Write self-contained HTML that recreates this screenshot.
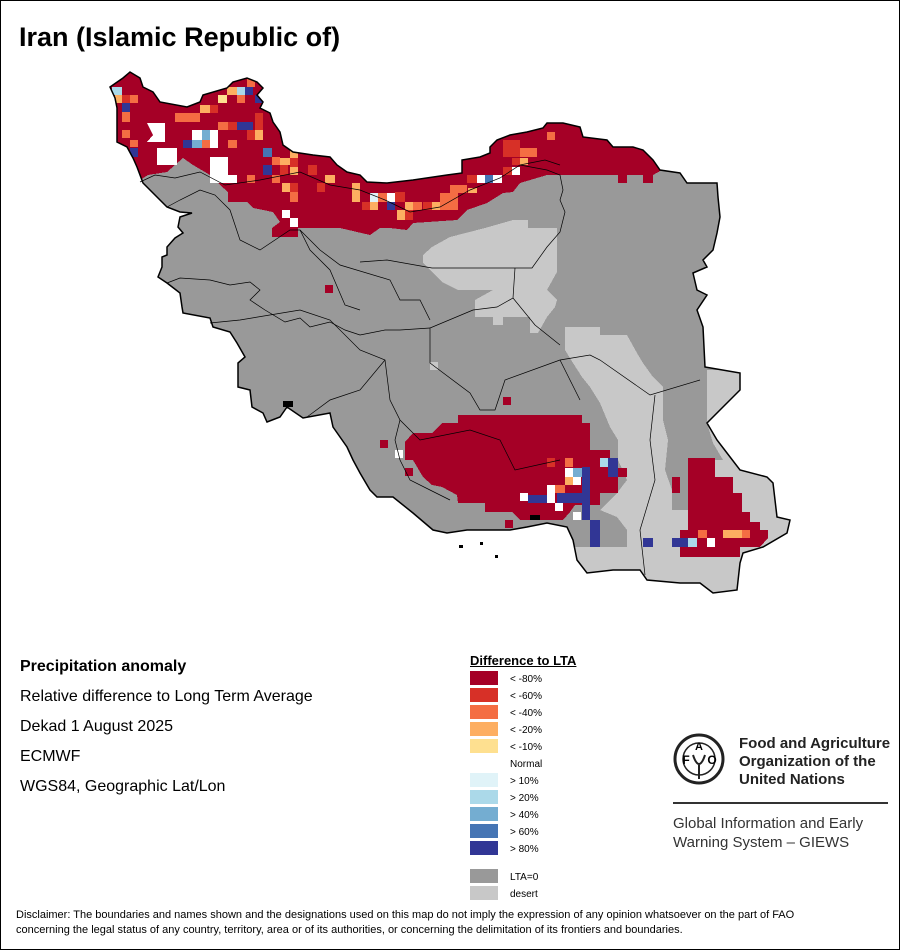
<!DOCTYPE html>
<html><head><meta charset="utf-8"><style>
body{margin:0;background:#fff;}
#c{position:relative;width:898px;height:948px;border:1px solid #000;overflow:hidden;font-family:"Liberation Sans",sans-serif;}
.t{position:absolute;white-space:nowrap;color:#000;}
</style></head><body><div id="c">
<div class="t" style="left:18px;top:21px;font-size:27px;font-weight:bold;">Iran (Islamic Republic of)</div>
<svg width="900" height="950" style="position:absolute;left:-1px;top:-1px">
<defs><clipPath id="ir"><polygon id="outl" points="110,87 123,78 130,72 140,78 143,87 153,92 160,102 187,107 200,102 203,95 227,88 233,82 247,78 257,82 263,88 257,95 263,102 260,108 270,113 273,122 280,132 283,145 293,152 313,155 330,157 337,165 347,172 360,175 367,182 387,183 413,180 447,175 462,173 462,160 480,157 490,153 490,147 497,140 510,135 527,132 543,128 547,123 563,123 580,127 583,137 607,140 613,147 633,147 643,150 653,160 660,170 680,173 687,183 717,183 718,197 720,217 717,233 713,250 703,260 707,267 693,273 697,290 707,295 697,310 703,327 705,367 740,373 740,390 707,423 717,440 727,453 740,470 767,477 773,483 777,517 790,520 787,533 763,547 743,553 740,563 737,590 713,593 700,583 680,583 647,580 640,570 613,570 587,573 577,560 573,540 567,527 547,523 527,527 510,530 493,530 467,530 447,533 433,530 413,513 393,497 377,497 370,490 360,473 353,460 347,447 333,427 330,413 303,418 287,407 280,417 267,422 263,413 252,407 250,390 238,387 238,363 245,357 237,343 230,332 213,327 210,318 183,313 182,307 180,293 167,283 158,277 162,267 162,257 167,255 167,247 175,238 183,233 178,227 180,217 192,213 180,212 167,207 153,193 143,183 137,167 133,158 127,147 117,142 117,125 117,108 115,98"/></clipPath></defs>
<g clip-path="url(#ir)" shape-rendering="crispEdges">
<rect x="100" y="60" width="700" height="550" fill="#999999"/>
<polygon fill="#c8c8c8" points="423,255 432,247 450,237 485,228 513,220 528,220 528,228 557,228 557,272 547,290 557,300 555,307 547,317 538,333 530,333 530,317 503,317 503,325 493,325 493,317 475,317 475,300 493,290 458,290 442,282 432,272 423,263"/>
<polygon fill="#c8c8c8" points="565,327 600,327 600,335 627,335 637,353 643,363 653,377 663,387 707,370 760,370 800,480 800,610 560,610 573,557 573,547 627,547 627,530 617,517 600,510 617,493 627,480 618,460 618,440 610,427 600,403 590,387 582,377 573,363 565,350"/>
<polygon fill="#999999" points="663,387 707,370 707,423 713,443 723,460 700,460 690,470 688,510 672,510 672,490 665,470 668,440 663,420"/>
<rect x="430" y="362" width="8" height="8" fill="#c8c8c8"/>
<polygon fill="#a50026" points="100,60 800,60 800,165 662,170 653,175 653,183 643,183 643,175 627,175 627,183 618,183 618,175 547,175 520,183 513,192 503,193 487,203 467,210 457,220 413,223 407,230 390,228 380,228 370,235 340,228 298,228 298,237 272,237 272,228 280,222 273,212 253,208 247,202 228,202 228,192 220,185 210,175 193,165 183,158 167,172 148,175 140,180 100,180"/>
<polygon fill="#a50026" points="458,415 582,415 582,423 590,423 590,450 610,450 610,468 627,468 627,477 618,477 618,493 600,493 600,505 575,505 570,512 563,520 520,520 512,512 485,512 485,503 458,503 457,495 442,487 432,485 423,477 413,460 405,460 405,442 413,433 432,433 442,423 458,423"/>
<polygon fill="#a50026" points="688,458 715,458 715,477 733,477 733,493 742,493 742,512 750,512 750,522 760,522 760,530 768,530 768,538 760,547 740,547 740,557 680,557 680,530 688,530"/>
<g fill="#a50026"><rect x="672" y="477" width="8" height="16"/><rect x="503" y="397" width="8" height="8"/><rect x="380" y="440" width="8" height="8"/><rect x="405" y="468" width="8" height="8"/><rect x="505" y="520" width="8" height="8"/><rect x="325" y="285" width="8" height="8"/></g>
<g fill="#fff"><polygon points="147,123 165,123 165,142 147,142 153,135"/><rect x="157" y="148" width="20" height="17"/><rect x="192" y="130" width="10" height="10"/><rect x="210" y="130" width="8" height="18"/><rect x="210" y="157" width="18" height="18"/><rect x="210" y="175" width="27" height="8"/><rect x="387" y="193" width="8" height="9"/><rect x="282" y="210" width="8" height="8"/><rect x="290" y="218" width="8" height="9"/><rect x="477" y="175" width="8" height="8"/><rect x="493" y="175" width="9" height="8"/><rect x="512" y="167" width="8" height="8"/><rect x="395" y="450" width="8" height="8"/><rect x="565" y="468" width="8" height="9"/><rect x="573" y="477" width="8" height="8"/><rect x="547" y="485" width="8" height="18"/><rect x="555" y="503" width="8" height="8"/><rect x="573" y="512" width="8" height="8"/><rect x="707" y="538" width="8" height="9"/><rect x="520" y="493" width="8" height="8"/></g>
<g fill="#d73027"><rect x="122" y="95" width="8" height="8"/><rect x="210" y="105" width="8" height="8"/><rect x="228" y="122" width="9" height="8"/><rect x="255" y="113" width="8" height="17"/><rect x="247" y="130" width="8" height="10"/><rect x="280" y="165" width="8" height="10"/><rect x="290" y="158" width="8" height="9"/><rect x="308" y="165" width="9" height="10"/><rect x="317" y="183" width="8" height="9"/><rect x="290" y="183" width="8" height="9"/><rect x="362" y="202" width="8" height="8"/><rect x="395" y="192" width="10" height="10"/><rect x="423" y="202" width="9" height="8"/><rect x="405" y="210" width="8" height="10"/><rect x="467" y="175" width="10" height="8"/><rect x="503" y="167" width="9" height="8"/><rect x="503" y="140" width="17" height="17"/><rect x="512" y="158" width="8" height="7"/><rect x="547" y="458" width="8" height="9"/></g>
<g fill="#f46d43"><rect x="130" y="95" width="8" height="8"/><rect x="122" y="112" width="8" height="10"/><rect x="122" y="130" width="8" height="8"/><rect x="130" y="140" width="8" height="7"/><rect x="175" y="113" width="25" height="9"/><rect x="237" y="95" width="8" height="8"/><rect x="247" y="78" width="8" height="9"/><rect x="202" y="140" width="8" height="8"/><rect x="228" y="140" width="9" height="8"/><rect x="218" y="122" width="10" height="8"/><rect x="272" y="157" width="8" height="8"/><rect x="272" y="175" width="8" height="8"/><rect x="247" y="175" width="8" height="8"/><rect x="290" y="192" width="8" height="10"/><rect x="378" y="193" width="9" height="9"/><rect x="413" y="202" width="9" height="8"/><rect x="440" y="193" width="18" height="17"/><rect x="450" y="185" width="17" height="8"/><rect x="520" y="148" width="17" height="9"/><rect x="547" y="132" width="8" height="8"/><rect x="565" y="458" width="8" height="9"/><rect x="555" y="485" width="10" height="8"/><rect x="698" y="530" width="9" height="8"/><rect x="742" y="530" width="8" height="8"/></g>
<g fill="#fdae61"><rect x="115" y="95" width="7" height="8"/><rect x="200" y="105" width="10" height="8"/><rect x="227" y="87" width="10" height="8"/><rect x="255" y="130" width="8" height="10"/><rect x="280" y="158" width="10" height="7"/><rect x="290" y="150" width="8" height="8"/><rect x="290" y="167" width="8" height="8"/><rect x="325" y="175" width="10" height="8"/><rect x="282" y="183" width="8" height="9"/><rect x="352" y="183" width="8" height="19"/><rect x="370" y="202" width="8" height="8"/><rect x="405" y="202" width="8" height="8"/><rect x="432" y="202" width="8" height="8"/><rect x="397" y="210" width="8" height="10"/><rect x="468" y="188" width="9" height="5"/><rect x="520" y="158" width="8" height="7"/><rect x="565" y="477" width="8" height="8"/><rect x="723" y="530" width="19" height="8"/></g>
<g fill="#fee090"><rect x="218" y="95" width="9" height="8"/></g>
<g fill="#e0f3f8"><rect x="370" y="193" width="8" height="9"/></g>
<g fill="#abd9e9"><rect x="112" y="87" width="10" height="8"/><rect x="237" y="87" width="8" height="8"/><rect x="600" y="458" width="8" height="9"/><rect x="688" y="538" width="9" height="9"/></g>
<g fill="#74add1"><rect x="202" y="130" width="8" height="10"/><rect x="192" y="140" width="10" height="8"/><rect x="573" y="468" width="9" height="9"/></g>
<g fill="#4575b4"><rect x="263" y="148" width="9" height="9"/><rect x="485" y="175" width="8" height="8"/></g>
<g fill="#313695"><rect x="245" y="87" width="8" height="8"/><rect x="255" y="95" width="8" height="8"/><rect x="122" y="103" width="8" height="9"/><rect x="130" y="148" width="8" height="9"/><rect x="183" y="140" width="9" height="8"/><rect x="237" y="122" width="16" height="8"/><rect x="263" y="165" width="9" height="10"/><rect x="387" y="202" width="8" height="8"/><rect x="582" y="467" width="8" height="53"/><rect x="557" y="493" width="25" height="10"/><rect x="528" y="495" width="19" height="8"/><rect x="590" y="520" width="10" height="27"/><rect x="608" y="458" width="10" height="19"/><rect x="643" y="538" width="10" height="9"/><rect x="672" y="538" width="16" height="9"/></g>
</g>
<use href="#outl" fill="none" stroke="#000" stroke-width="1.5"/>
<g fill="#000"><rect x="283" y="401" width="10" height="6"/><rect x="459" y="545" width="4" height="3"/><rect x="495" y="555" width="3" height="3"/><rect x="480" y="542" width="3" height="3"/><rect x="530" y="515" width="10" height="5"/></g>
<g fill="none" stroke="#000" stroke-width="0.7">
<polyline points="140,182 155,175 175,178 200,172 225,185 260,180 300,172 330,185 360,190 385,200 410,212 440,207 470,190 500,178 520,165 545,160 560,165"/>
<polyline points="520,165 547,170 560,175 563,190 560,200 565,212 560,232 547,247 532,268 515,268 432,268 387,260 360,262"/>
<polyline points="515,268 513,298 497,307 473,310 430,328 430,363 470,393 480,410 495,410 505,380 560,360 590,355 600,360 650,395 700,380"/>
<polyline points="513,298 535,325 560,345"/>
<polyline points="560,360 580,400"/>
<polyline points="655,395 650,440 655,480 640,530 645,575"/>
<polyline points="167,207 180,200 200,190 215,195 230,210 240,240 260,250 290,230 300,230 320,250 340,265 390,280 400,300 420,300 430,320"/>
<polyline points="167,283 180,278 210,280 230,285 250,282 260,290 250,300 265,310 285,322 300,318 310,327 330,322 345,330 360,335 385,330 400,330 430,328"/>
<polyline points="210,323 240,320 300,310 330,320 360,350 385,360 390,400 400,420 420,440 470,430 500,440 515,470 560,460"/>
<polyline points="307,417 330,400 360,390 385,360"/>
<polyline points="300,230 310,250 330,270 345,305 360,310"/>
<polyline points="400,420 395,440 400,460 410,480 430,490 450,500"/>
</g>
</svg>
<div class="t" style="left:19px;top:657px;font-size:16px;font-weight:bold;">Precipitation anomaly</div>
<div class="t" style="left:19px;top:687px;font-size:16px;">Relative difference to Long Term Average</div>
<div class="t" style="left:19px;top:717px;font-size:16px;">Dekad 1 August 2025</div>
<div class="t" style="left:19px;top:747px;font-size:16px;">ECMWF</div>
<div class="t" style="left:19px;top:777px;font-size:16px;">WGS84, Geographic Lat/Lon</div>
<div class="t" style="left:469px;top:652px;font-size:13px;font-weight:bold;text-decoration:underline;">Difference to LTA</div>
<svg width="140" height="240" style="position:absolute;left:469px;top:670px">
<g>
<rect x="0" y="0" width="28" height="14" fill="#a50026"/>
<rect x="0" y="17" width="28" height="14" fill="#d73027"/>
<rect x="0" y="34" width="28" height="14" fill="#f46d43"/>
<rect x="0" y="51" width="28" height="14" fill="#fdae61"/>
<rect x="0" y="68" width="28" height="14" fill="#fee090"/>
<rect x="0" y="102" width="28" height="14" fill="#e0f3f8"/>
<rect x="0" y="119" width="28" height="14" fill="#abd9e9"/>
<rect x="0" y="136" width="28" height="14" fill="#74add1"/>
<rect x="0" y="153" width="28" height="14" fill="#4575b4"/>
<rect x="0" y="170" width="28" height="14" fill="#313695"/>
<rect x="0" y="198" width="28" height="14" fill="#999999"/>
<rect x="0" y="215" width="28" height="14" fill="#c8c8c8"/>
</g>
<g font-family="Liberation Sans, sans-serif" font-size="10" fill="#000">
<text x="40" y="11">&lt; -80%</text><text x="40" y="28">&lt; -60%</text><text x="40" y="45">&lt; -40%</text><text x="40" y="62">&lt; -20%</text><text x="40" y="79">&lt; -10%</text><text x="40" y="96">Normal</text><text x="40" y="113">&gt; 10%</text><text x="40" y="130">&gt; 20%</text><text x="40" y="147">&gt; 40%</text><text x="40" y="164">&gt; 60%</text><text x="40" y="181">&gt; 80%</text><text x="40" y="209">LTA=0</text><text x="40" y="226">desert</text>
</g></svg>
<svg width="60" height="60" style="position:absolute;left:672px;top:732px">
<circle cx="26" cy="26" r="24" fill="none" stroke="#222" stroke-width="3"/>
<circle cx="26" cy="26" r="16" fill="none" stroke="#222" stroke-width="1.5"/>
<text x="13" y="31" font-size="12" font-weight="bold" font-family="Liberation Sans" text-anchor="middle">F</text>
<text x="26" y="17" font-size="11" font-weight="bold" font-family="Liberation Sans" text-anchor="middle">A</text>
<text x="39" y="31" font-size="12" font-weight="bold" font-family="Liberation Sans" text-anchor="middle">O</text>
<path d="M20,22 Q26,40 32,22 M26,30 L26,46" stroke="#222" stroke-width="2" fill="none"/>
</svg>
<div class="t" style="left:738px;top:734px;font-size:15px;font-weight:bold;line-height:18px;color:#222;">Food and Agriculture<br>Organization of the<br>United Nations</div>
<div style="position:absolute;left:672px;top:801px;width:215px;height:2px;background:#333"></div>
<div class="t" style="left:672px;top:813px;font-size:15px;line-height:19px;color:#333;">Global Information and Early<br>Warning System – GIEWS</div>
<div class="t" style="left:15px;top:907px;font-size:11px;line-height:15px;">Disclaimer: The boundaries and names shown and the designations used on this map do not imply the expression of any opinion whatsoever on the part of FAO<br>concerning the legal status of any country, territory, area or of its authorities, or concerning the delimitation of its frontiers and boundaries.</div>
</div></body></html>
